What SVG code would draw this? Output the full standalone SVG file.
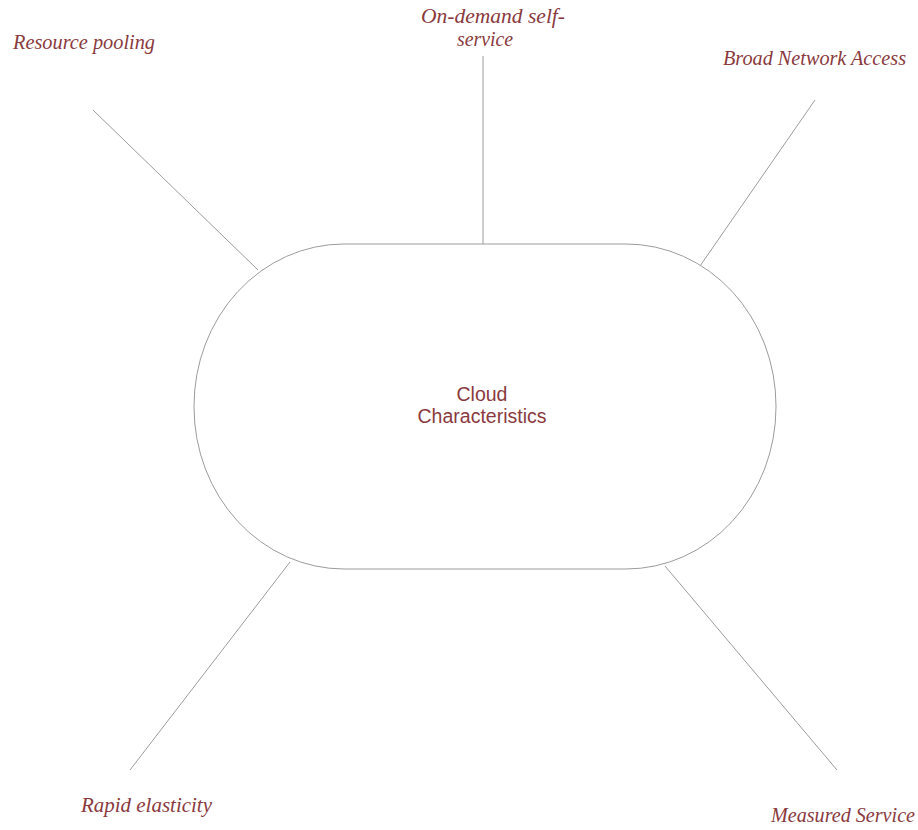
<svg xmlns="http://www.w3.org/2000/svg" width="918" height="830" viewBox="0 0 918 830">
  <style>
    .lbl { font-family: "Liberation Serif", "Times New Roman", serif; font-style: italic; font-size: 20px; fill: #8a3a3e; }
    .ctr { font-family: "Liberation Sans", Arial, sans-serif; font-size: 19.5px; fill: #8a3a3e; text-anchor: middle; }
    .edge { stroke: #9c9c9c; stroke-width: 1; fill: none; }
    .hub { fill: #ffffff; stroke: #9c9c9c; stroke-width: 1; }
  </style>
  <rect width="918" height="830" fill="#ffffff"/>
  <g id="connectors">
    <line class="edge" x1="93" y1="110" x2="258" y2="270"/>
    <line class="edge" x1="483" y1="56" x2="483" y2="244"/>
    <line class="edge" x1="815" y1="100" x2="700" y2="266"/>
    <line class="edge" x1="290" y1="562" x2="130" y2="770"/>
    <line class="edge" x1="665" y1="566" x2="837" y2="770"/>
  </g>
  <g id="hub">
    <rect class="hub" x="194" y="244" width="582" height="325" rx="150" ry="162"/>
    <text class="ctr" x="482" y="401">Cloud</text>
    <text class="ctr" x="482" y="423">Characteristics</text>
  </g>
  <g id="resource-pooling">
    <text class="lbl" x="13" y="49" textLength="142" lengthAdjust="spacingAndGlyphs">Resource pooling</text>
  </g>
  <g id="on-demand">
    <text class="lbl" x="421" y="23" textLength="144" lengthAdjust="spacingAndGlyphs">On-demand self-</text>
    <text class="lbl" x="457" y="46" textLength="56" lengthAdjust="spacingAndGlyphs">service</text>
  </g>
  <g id="broad-network">
    <text class="lbl" x="723" y="65" textLength="183" lengthAdjust="spacingAndGlyphs">Broad Network Access</text>
  </g>
  <g id="rapid-elasticity">
    <text class="lbl" x="81" y="812" textLength="131" lengthAdjust="spacingAndGlyphs">Rapid elasticity</text>
  </g>
  <g id="measured-service">
    <text class="lbl" x="771" y="822" textLength="144" lengthAdjust="spacingAndGlyphs">Measured Service</text>
  </g>
</svg>
